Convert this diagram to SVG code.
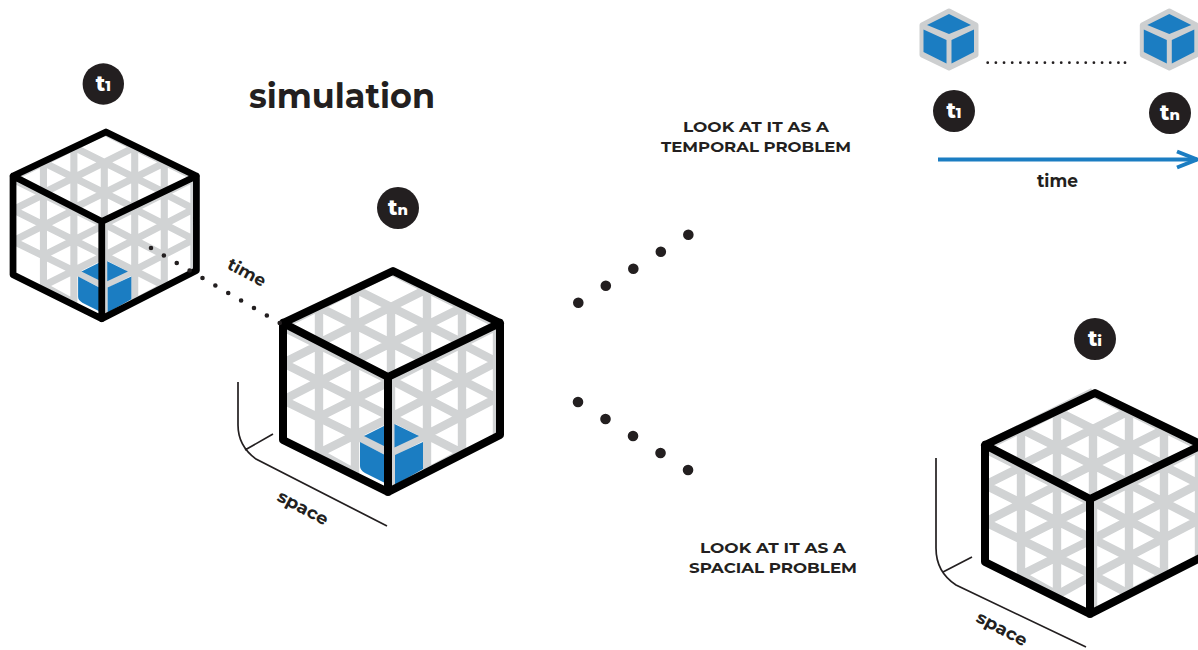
<svg xmlns="http://www.w3.org/2000/svg" xmlns:xlink="http://www.w3.org/1999/xlink" width="1198" height="650" viewBox="0 0 1198 650">
<style>
.t{font-family:"Montserrat","Inter","Open Sans","Liberation Sans",sans-serif;font-weight:700;fill:#231f20}
.badge{fill:#231f20}
.bt{font-family:"Montserrat","Inter","Open Sans","Liberation Sans",sans-serif;font-weight:800;fill:#fff;text-anchor:middle}
.g{fill:none;stroke:#d1d3d4;stroke-width:8.400}
.e{fill:none;stroke:#000;stroke-width:8;stroke-linejoin:round;stroke-linecap:round}
.blue{fill:#1b7dc2}
.ax{fill:none;stroke:#231f20;stroke-width:1.7}
</style>
<defs>
<clipPath id="cT"><polygon points="283,323 393,271 500,323 388,377"/></clipPath>
<clipPath id="cL"><polygon points="283,323 388,377 388,492 283,440"/></clipPath>
<clipPath id="cR"><polygon points="388,377 500,323 500,435 388,492"/></clipPath>
<g id="grid">
<g clip-path="url(#cT)"><path class="g" d="M319 307V350M355 289V370M391 307V380M427 289V370M462 307V350M283 217L499 325M283 253L499 361M283 289L499 397M283 325L499 433M283 325L499 217M283 361L499 253M283 397L499 289M283 433L499 325"/></g>
<g clip-path="url(#cL)"><path class="g" d="M319 340V470M355 355V490M391 375V495M283 327L391 381M283 363L391 417M283 400L391 453M319 453L355 473M283 363L355 327M283 400L391 345M319 417L391 381M319 453L391 417"/></g>
<g clip-path="url(#cR)"><path class="g" d="M391 375V495M427 355V490M462 340V470M497 320V440M462 344L497 362M391 344L497 398M391 380L462 417M391 417L462 453M391 380L497 326M391 417L497 362M391 453L497 398M427 472L462 453"/></g>
</g>
<g id="edges"><path class="e" d="M283 323L393 271L500 323V435L388 492L283 440ZM283 323L388 377L500 323M388 377V492"/></g>
<g id="bluebox"><path class="blue" d="M394.500 424L419 436L394.500 447.500ZM395 455L423 442V469L395 485ZM360 442L385 455V483L365 473Q360 470 360 466Z"/><path class="blue" d="M364 436L386 425V447Z"/></g>
<g id="mini">
<polygon points="0,-29 27,-15 27,15 0,28 -27,15 -27,-15" fill="#cdcfd0" stroke="#cdcfd0" stroke-width="5" stroke-linejoin="round"/>
<path class="blue" d="M0 -26L22 -15L0 -6L-22 -15ZM-25.500 -10.500L-2.500 0V23.500L-25.500 12ZM2.500 0L25 -10.500V12L2.500 23.500Z"/>
</g>
<marker id="arr" markerUnits="userSpaceOnUse" markerWidth="26" markerHeight="24" refX="21" refY="12" orient="auto" overflow="visible"><path d="M1 4L21 12L1 20" fill="none" stroke="#1b7dc2" stroke-width="4"/></marker>
</defs>
<rect width="1198" height="650" fill="#fff"/>
<g id="title"><text class="t" x="249" y="108" font-size="34" textLength="186" lengthAdjust="spacingAndGlyphs">simulation</text></g>
<g id="cube-t1" transform="translate(-226.100,-97) scale(.845)">
<use href="#grid"/><use href="#bluebox"/><use href="#edges"/>
</g>
<g id="cube-tn">
<use href="#grid"/><use href="#bluebox"/><use href="#edges"/>
</g>
<g id="cube-ti" transform="translate(702,122)">
<path d="M280 323L390 268" fill="none" stroke="#d1d3d4" stroke-width="4"/>
<path d="M281 326V440" fill="none" stroke="#d1d3d4" stroke-width="4"/>
<use href="#grid"/>
<g clip-path="url(#cL)"><path class="g" d="M355 473L391 453"/></g>
<g clip-path="url(#cR)"><path class="g" d="M391 453L427 472"/></g>
<use href="#edges"/>
</g>
<g id="badge-t1"><circle class="badge" cx="103.300" cy="84" r="20.700"/><text class="bt" x="103.300" y="91" font-size="21">t<tspan font-size="14">1</tspan></text></g>
<g id="badge-tn"><circle class="badge" cx="398" cy="208" r="21"/><text class="bt" x="398" y="215" font-size="21">t<tspan font-size="15">n</tspan></text></g>
<g id="badge-ti"><circle class="badge" cx="1095" cy="339" r="21"/><text class="bt" x="1095" y="346" font-size="21">t<tspan font-size="15">i</tspan></text></g>
<g id="badge-t1-top"><circle class="badge" cx="954" cy="111" r="21"/><text class="bt" x="954" y="118" font-size="21">t<tspan font-size="14">1</tspan></text></g>
<g id="badge-tn-top"><circle class="badge" cx="1170" cy="113" r="21"/><text class="bt" x="1170" y="120" font-size="21">t<tspan font-size="15">n</tspan></text></g>
<g id="icon-1"><use href="#mini" x="949" y="40"/></g>
<g id="icon-n"><use href="#mini" x="1169.300" y="40"/></g>
<g id="connectors">
<path d="M151 248L280.500 323.500" fill="none" stroke="#231f20" stroke-width="4.600" stroke-linecap="round" stroke-dasharray="0 14.900"/>
<path d="M987.700 62.700H1119" fill="none" stroke="#231f20" stroke-width="2.800" stroke-linecap="round" stroke-dasharray="0 8.170"/>
<circle cx="1125" cy="62.700" r="1.400" fill="#231f20"/>
<path d="M578.300 302.700L688.800 234.400" fill="none" stroke="#231f20" stroke-width="10.600" stroke-linecap="round" stroke-dasharray="0 32.340"/>
<path d="M578 402L688.500 470.300" fill="none" stroke="#231f20" stroke-width="10.600" stroke-linecap="round" stroke-dasharray="0 32.340"/>
<path d="M938 159.500H1197" fill="none" stroke="#1b7dc2" stroke-width="4" marker-end="url(#arr)"/>
<path class="ax" d="M238 382V425Q238 446 256 459L387 526M245 450L273 434"/>
<path class="ax" d="M936 458V548Q936 572 956 585L1086 647M943 572L972 557"/>
</g>
<g id="labels">
<text class="t" x="226" y="268" font-size="17" textLength="41" lengthAdjust="spacingAndGlyphs" transform="rotate(28 226 268)">time</text>
<text class="t" x="276" y="500" font-size="17" textLength="55" lengthAdjust="spacingAndGlyphs" transform="rotate(28 276 500)">space</text>
<text class="t" x="975" y="621" font-size="17" textLength="55" lengthAdjust="spacingAndGlyphs" transform="rotate(28 975 621)">space</text>
<text class="t" x="1037" y="186.500" font-size="17.500" textLength="41" lengthAdjust="spacingAndGlyphs">time</text>
<text class="t" x="683" y="132" font-size="14.500" textLength="146" lengthAdjust="spacingAndGlyphs">LOOK AT IT AS A</text>
<text class="t" x="661" y="152" font-size="14.500" textLength="190" lengthAdjust="spacingAndGlyphs">TEMPORAL PROBLEM</text>
<text class="t" x="700" y="553" font-size="14.500" textLength="146" lengthAdjust="spacingAndGlyphs">LOOK AT IT AS A</text>
<text class="t" x="689" y="573" font-size="14.500" textLength="168" lengthAdjust="spacingAndGlyphs">SPACIAL PROBLEM</text>
</g>
</svg>
